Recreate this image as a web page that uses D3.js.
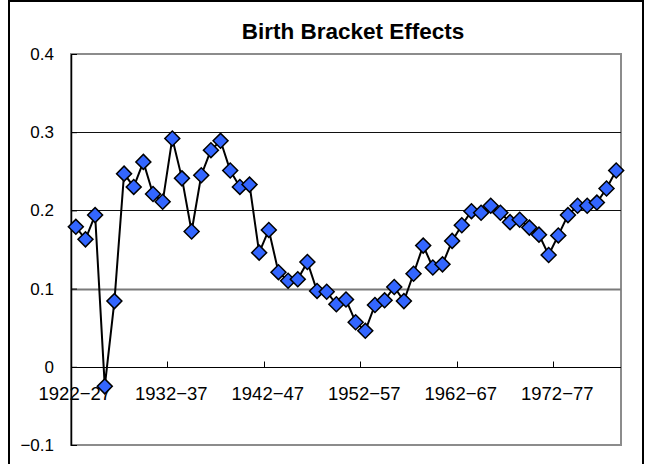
<!DOCTYPE html>
<html>
<head>
<meta charset="utf-8">
<script src="https://cdn.jsdelivr.net/npm/d3@7"></script>
<style>
  body { margin: 0; background: #fff; }
  text { font-family: "Liberation Sans", Arial, sans-serif; }
</style>
</head>
<body>
<div id="chart"></div>
<script>

// birth brackets (one per start year)
var brackets = [
  "1922-27", "1923-28", "1924-29", "1925-30", "1926-31", "1927-32", "1928-33", "1929-34",
  "1930-35", "1931-36", "1932-37", "1933-38", "1934-39", "1935-40", "1936-41", "1937-42",
  "1938-43", "1939-44", "1940-45", "1941-46", "1942-47", "1943-48", "1944-49", "1945-50",
  "1946-51", "1947-52", "1948-53", "1949-54", "1950-55", "1951-56", "1952-57", "1953-58",
  "1954-59", "1955-60", "1956-61", "1957-62", "1958-63", "1959-64", "1960-65", "1961-66",
  "1962-67", "1963-68", "1964-69", "1965-70", "1966-71", "1967-72", "1968-73", "1969-74",
  "1970-75", "1971-76", "1972-77", "1973-78", "1974-79", "1975-80", "1976-81", "1977-82",
  "1978-83"
];

// estimated effects
var effects = [
  0.179, 0.163, 0.194, -0.025, 0.084, 0.247, 0.230, 0.262,
  0.221, 0.211, 0.292, 0.241, 0.173, 0.245, 0.277, 0.289,
  0.251, 0.230, 0.233, 0.146, 0.175, 0.121, 0.110, 0.112,
  0.134, 0.097, 0.096, 0.080, 0.086, 0.057, 0.046, 0.079,
  0.085, 0.102, 0.084, 0.119, 0.155, 0.127, 0.131, 0.161,
  0.181, 0.199, 0.197, 0.206, 0.197, 0.185, 0.188, 0.178,
  0.169, 0.143, 0.168, 0.194, 0.206, 0.206, 0.210, 0.228,
  0.251
];

var yTicks = [-0.1, 0, 0.1, 0.2, 0.3, 0.4];
var labelEvery = 10;

var points = brackets.map(function(b, i) { return {bracket: b, value: effects[i]}; });

var width = 651, height = 464;
var plot = {left: 71, right: 621, top: 54, bottom: 445};

var svg = d3.select("#chart")
  .append("svg")
  .attr("width", width)
  .attr("height", height);

/** outer chart frame */
svg.append("rect")
  .attr("x", 9)
  .attr("y", 1)
  .attr("width", 634)
  .attr("height", 475)
  .style("fill", "#fff")
  .style("stroke", "#000")
  .style("stroke-width", 2);

var xScale = d3.scaleBand()
  .domain(brackets)
  .range([plot.left, plot.right])
  .paddingInner(0)
  .paddingOuter(0);

var yScale = d3.scaleLinear()
  .domain([-0.1, 0.4])
  .range([plot.bottom, plot.top]);

var xMid = function(b) { return xScale(b) + xScale.bandwidth() / 2; };

/** plot area border (grey) */
svg.append("rect")
  .attr("x", plot.left)
  .attr("y", plot.top)
  .attr("width", plot.right - plot.left)
  .attr("height", plot.bottom - plot.top)
  .style("fill", "none")
  .style("stroke", "#8c8c8c")
  .style("stroke-width", 2);

/** horizontal gridlines */
svg.append("g")
  .selectAll("line")
  .data(yTicks.filter(function(t) { return t > -0.1 && t < 0.4; }))
  .enter()
  .append("line")
  .attr("x1", plot.left)
  .attr("x2", plot.right)
  .attr("y1", function(t) { return Math.round(yScale(t)) + 0.5; })
  .attr("y2", function(t) { return Math.round(yScale(t)) + 0.5; })
  .style("stroke", function(t) { return t === 0.1 ? "#7a7a7a" : "#111"; })
  .style("stroke-width", function(t) { return t === 0.1 ? 2 : 1; });

/** y axis, ticks pointing inward */
var yAxis = d3.axisLeft(yScale)
  .tickValues(yTicks)
  .tickFormat(function(t) { return d3.format(".1f")(t).replace("-", "\u2212").replace(/^0\.0$/, "0"); })
  .tickSizeInner(-6)
  .tickSizeOuter(0)
  .tickPadding(17);

var yG = svg.append("g")
  .attr("transform", "translate(" + plot.left + ",0)")
  .call(yAxis);
yG.select(".domain").style("stroke", "#000").style("stroke-width", 1.5);
yG.selectAll(".tick line").style("stroke", "#000");
yG.selectAll(".tick text")
  .style("font-size", "17px")
  .style("fill", "#000")
  .attr("font-family", null);

/** category axis at zero, ticks every 10 brackets */
var x0 = Math.round(yScale(0)) + 0.5;
svg.append("line")
  .attr("x1", plot.left)
  .attr("x2", plot.right)
  .attr("y1", x0)
  .attr("y2", x0)
  .style("stroke", "#000")
  .style("stroke-width", 1);

var tickBrackets = brackets.filter(function(b, i) { return i > 0 && i % labelEvery === 0; });
svg.append("g")
  .selectAll("line")
  .data(tickBrackets)
  .enter()
  .append("line")
  .attr("x1", function(b) { return Math.round(xScale(b)) + 0.5; })
  .attr("x2", function(b) { return Math.round(xScale(b)) + 0.5; })
  .attr("y1", x0)
  .attr("y2", x0 - 6)
  .style("stroke", "#000");

svg.append("g")
  .selectAll("text")
  .data(brackets.filter(function(b, i) { return i % labelEvery === 0; }))
  .enter()
  .append("text")
  .attr("x", function(b) { return xMid(b) - 1; })
  .attr("y", 400)
  .style("text-anchor", "middle")
  .style("font-size", "18.5px")
  .text(function(b) { return b.replace("-", "\u2212"); });

/** title */
svg.append("text")
  .attr("x", 353)
  .attr("y", 39)
  .style("text-anchor", "middle")
  .style("font-size", "22.5px")
  .style("font-weight", "bold")
  .text("Birth Bracket Effects");

/** series line */
var line = d3.line()
  .x(function(p) { return xMid(p.bracket); })
  .y(function(p) { return yScale(p.value); });

svg.append("path")
  .datum(points)
  .attr("d", line)
  .style("fill", "none")
  .style("stroke", "#000")
  .style("stroke-width", 2);

/** diamond markers */
var diamond = d3.symbol().type(d3.symbolSquare).size(112);
svg.append("g")
  .selectAll("path")
  .data(points)
  .enter()
  .append("path")
  .attr("d", diamond)
  .attr("transform", function(p) {
    return "translate(" + xMid(p.bracket) + "," + yScale(p.value) + ") rotate(45)";
  })
  .style("fill", "#3366ff")
  .style("stroke", "#000")
  .style("stroke-width", 1.5);

</script>
</body>
</html>
